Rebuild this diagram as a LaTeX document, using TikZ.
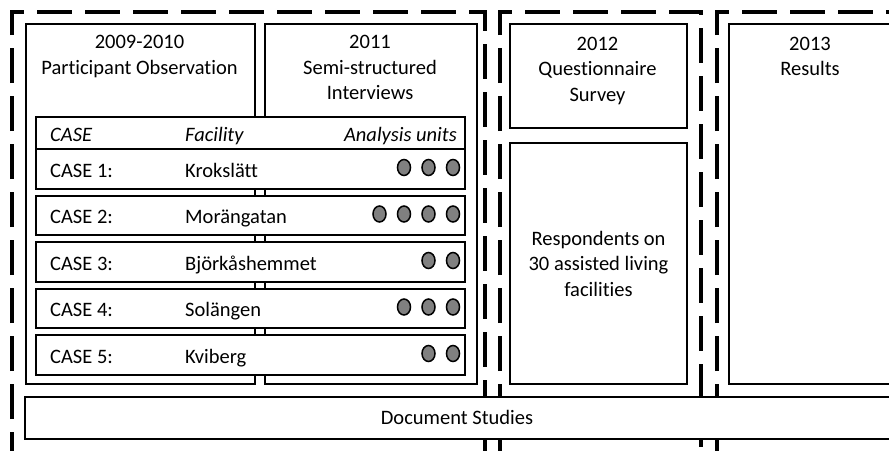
\documentclass[tikz,border=0pt]{standalone}
\usepackage{fontspec}
\setmainfont[Ligatures=NoCommon]{Carlito}
\usetikzlibrary{shapes.geometric}

\begin{document}
\begin{tikzpicture}[x=1pt, y=-1pt,
  every node/.style={font=\fontsize{20.5}{25.5}\selectfont, inner sep=0pt},
  frame/.style={line width=4pt, dash pattern=on 35pt off 13pt, dash phase=7pt},
  block/.style={draw, line width=2pt, fill=white, anchor=north west},
  row/.style={draw, line width=2pt, fill=white, minimum width=429pt},
  unit/.style={draw, line width=1.5pt, fill=black!50, ellipse, minimum width=13pt, minimum height=16pt}]
  \useasboundingbox (0,0) rectangle (889,450);
  \clip (0,0) rectangle (889,450);

  % Define table dimensions
  \def\rowleft{36}
  \def\rowmid{250.5}
  \def\rowheight{39.5}

  % Dashed frames for the three phases
  \foreach \l/\r in {12/485, 500/701, 717/1000} {
    \draw[frame] (\l,460) -- (\l,12) -- (\r,12) -- (\r,460);
  }

  % Column boxes
  \node[block, minimum width=229pt, minimum height=360pt] (obs) at (25,23) {};
  \node[block, minimum width=212pt, minimum height=360pt] (int) at (264,23) {};
  \node[block, minimum width=177pt, minimum height=104pt] (survey) at (509,23) {};
  \node[block, minimum width=177pt, minimum height=241pt] (resp) at (509,142) {};
  \node[block, minimum width=170pt, minimum height=360pt] (res) at (728,23) {};

  % Box titles
  \node[anchor=north, align=center] (obs-title) at (139.5,35) {2009-2010\\Participant Observation};
  \node[anchor=north, align=center] (int-title) at (370,35) {2011\\Semi-structured\\Interviews};
  \node[anchor=north, align=center] (survey-title) at (597.5,36.5) {2012\\Questionnaire\\Survey};
  \node[anchor=north, align=center] (res-title) at (810,36.5) {2013\\Results};
  \node[align=center] (resp-text) at (resp.center) {Respondents on\\30 assisted living\\facilities};

  % Header row of the case table
  \node[row, minimum height=32pt] (head) at (\rowmid,133) {};
  \node[anchor=base west, font=\fontsize{20.5}{25.5}\selectfont\itshape] (head-case) at (50,141.5) {CASE};
  \node[anchor=base west, font=\fontsize{20.5}{25.5}\selectfont\itshape] (head-facility) at (185,141.5) {Facility};
  \node[anchor=base east, font=\fontsize{20.5}{25.5}\selectfont\itshape] (head-units) at (457,141.5) {Analysis units};

  % Case rows with facility and analysis units
  \foreach \i/\name/\n in {1/Krokslätt/3, 2/Morängatan/4, 3/Björkåshemmet/2, 4/Solängen/3, 5/Kviberg/2} {
    \pgfmathsetmacro\mid{169+46.5*(\i-1)}
    \node[row, minimum height=\rowheight pt] (case\i) at (\rowmid,\mid) {};
    \node[anchor=base west] (case\i-id) at (50,{\mid+8}) {CASE \i:};
    \node[anchor=base west] (case\i-name) at (185,{\mid+8}) {\name};
    \foreach \k in {1,...,\n} {
      \node[unit] (case\i-u\k) at ({453-24.5*(\k-1)},{\mid-1.5}) {};
    }
  }

  % Document studies across all phases
  \node[block, line width=1.6pt, minimum width=866pt, minimum height=42pt] (docs) at (24,396) {};
  \node (docs-text) at (457,417) {Document Studies};

\end{tikzpicture}
\end{document}
